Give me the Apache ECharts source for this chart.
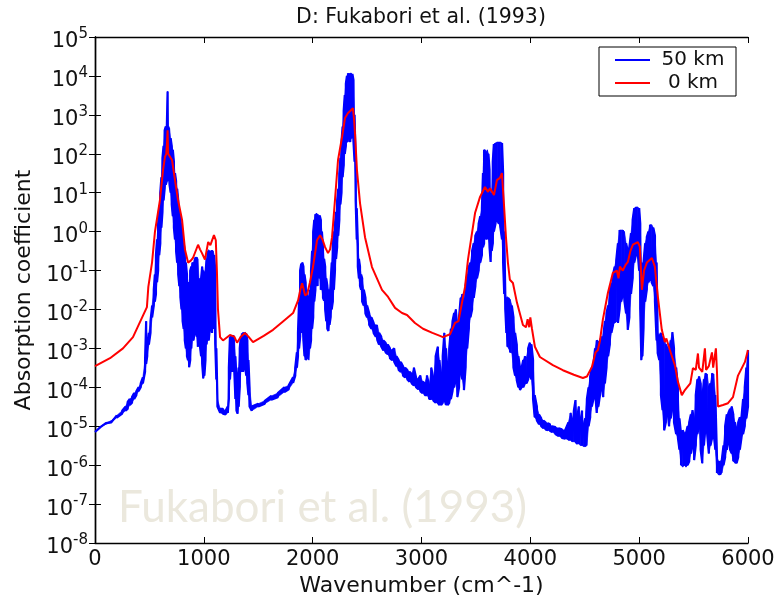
<!DOCTYPE html>
<html>
<head>
<meta charset="utf-8">
<script src="https://cdn.jsdelivr.net/npm/echarts@6/dist/echarts.min.js"></script>
<style>html,body{margin:0;padding:0;background:#fff}#chart{width:779px;height:596px}</style>
</head>
<body>
<div id="chart"></div>
<script>
// ---- data ----
const chartTitle = 'D: Fukabori et al. (1993)';
const watermarkText = 'Fukabori et al. (1993)';
const xTickValues = [0, 1000, 2000, 3000, 4000, 5000, 6000];
const yTickExponents = [-8, -7, -6, -5, -4, -3, -2, -1, 0, 1, 2, 3, 4, 5];
const seriesNames = ['50 km', '0 km'];

// 50 km: rapidly oscillating spectrum, given as upper / lower envelope per wavenumber
const blueWavenumber = [
  0,50,100,150,200,250,280,300,320,340,
  360,380,400,420,440,460,470,480,495,510,
  525,540,550,560,570,580,590,600,610,620,
  630,640,650,660,667,675,685,695,705,715,
  725,735,745,755,765,775,785,795,805,815,
  825,835,845,855,865,875,885,895,905,915,
  925,935,945,955,965,975,985,995,1005,1015,
  1025,1035,1045,1055,1065,1075,1085,1095,1105,1115,
  1125,1150,1175,1200,1220,1230,1240,1250,1260,1270,
  1280,1290,1300,1310,1320,1330,1340,1350,1360,1370,
  1380,1390,1400,1410,1420,1440,1500,1560,1620,1680,
  1740,1780,1820,1840,1855,1865,1875,1885,1895,1905,
  1915,1925,1935,1945,1955,1965,1975,1985,1995,2005,
  2015,2025,2035,2045,2055,2065,2075,2085,2095,2105,
  2115,2125,2135,2145,2155,2165,2175,2185,2195,2205,
  2215,2225,2235,2245,2255,2265,2275,2285,2295,2305,
  2315,2325,2335,2345,2355,2365,2375,2385,2395,2405,
  2415,2425,2435,2445,2455,2470,2485,2500,2520,2540,
  2560,2580,2595,2610,2630,2650,2670,2690,2710,2730,
  2750,2770,2790,2810,2830,2850,2870,2890,2910,2930,
  2950,2970,2990,3010,3030,3050,3070,3090,3110,3130,
  3150,3165,3180,3195,3210,3225,3240,3255,3270,3285,
  3300,3315,3330,3345,3360,3375,3390,3405,3420,3435,
  3450,3465,3480,3495,3510,3525,3540,3555,3565,3575,
  3585,3595,3605,3615,3625,3635,3645,3655,3665,3680,
  3695,3710,3725,3740,3750,3760,3770,3780,3790,3800,
  3815,3830,3845,3860,3875,3890,3905,3920,3935,3950,
  3965,3980,3995,4010,4025,4040,4060,4080,4100,4120,
  4140,4160,4180,4200,4230,4260,4290,4320,4350,4370,
  4385,4400,4415,4430,4445,4460,4475,4490,4505,4520,
  4535,4550,4565,4580,4595,4610,4625,4640,4655,4670,
  4685,4700,4715,4730,4745,4760,4775,4790,4805,4820,
  4835,4850,4865,4880,4895,4910,4925,4940,4955,4970,
  4985,5000,5010,5020,5030,5040,5055,5070,5085,5100,
  5115,5130,5145,5160,5170,5185,5200,5215,5230,5245,
  5260,5275,5290,5305,5320,5340,5356,5370,5385,5400,
  5415,5430,5445,5460,5475,5490,5505,5520,5535,5550,
  5565,5580,5595,5610,5625,5640,5655,5670,5685,5700,
  5715,5730,5745,5760,5775,5790,5805,5820,5835,5850,
  5865,5880,5895,5910,5925,5940,5955,5970,5985,6000
];
const blueUpper = [
  7.1e-6,1e-5,1.2e-5,1.4e-5,1.9e-5,2.5e-5,3.2e-5,4.2e-5,5e-5,5.6e-5,
  7.1e-5,7.9e-5,1e-4,1.26e-4,1.8e-4,5e-4,5e-3,1e-3,2.5e-3,5e-3,
  0.0126,0.032,0.079,0.25,0.63,1.6,4,10,25,79,
  160,400,500,500,4000,500,450,250,160,126,
  63,32,20,12.6,6.3,3.5,2.5,1.6,0.79,0.5,
  0.32,0.16,0.079,0.05,0.04,0.1,0.126,0.16,0.16,0.18,
  0.22,0.22,0.2,0.063,0.032,0.063,0.126,0.1,0.04,0.079,
  0.2,0.32,0.34,0.32,0.32,0.33,0.32,0.25,0.1,1e-3,
  5e-5,2.8e-5,2.8e-5,2.5e-5,3.2e-5,3.2e-4,2e-3,2.2e-3,2e-3,2.2e-3,
  2e-3,6.3e-4,1.6e-4,1e-4,3.2e-4,1e-3,2e-3,2.4e-3,2.6e-3,2.5e-3,
  2.6e-3,2.4e-3,1.6e-3,5e-4,1e-4,3.2e-5,3.8e-5,4.5e-5,6e-5,7.1e-5,
  1e-4,1.12e-4,1.8e-4,3.2e-4,7.9e-4,2.5e-3,0.016,0.1,0.15,0.16,
  0.126,0.079,0.05,0.032,0.016,0.0126,0.032,0.1,0.32,1,
  2,2.8,3.0,2.8,2.5,2.6,2,1,0.4,0.2,
  0.126,0.063,0.04,0.032,0.032,0.05,0.16,0.5,1,1.6,
  3.2,6.3,12.6,32,79,200,500,1260,3200,6300,
  10000,11700,11200,11700,11700,11200,7900,1000,63,4,
  0.5,0.2,0.126,0.079,0.063,0.032,0.02,0.0126,7.9e-3,6.3e-3,
  4.5e-3,4e-3,4e-3,2.5e-3,2e-3,1.6e-3,1.4e-3,1.26e-3,1e-3,8.9e-4,
  1e-3,6.3e-4,5e-4,4.5e-4,3.5e-4,3.2e-4,2.8e-4,2.5e-4,2.2e-4,3.2e-4,
  1.8e-4,1.6e-4,2e-4,1.4e-4,1.26e-4,2e-4,1.12e-4,3.2e-4,1.6e-4,6.3e-4,
  1.1e-3,5e-4,1.6e-4,6.3e-4,2.5e-3,1e-3,2.5e-4,1e-3,3.2e-3,5e-3,
  8.1e-3,0.01,3.2e-3,6.3e-3,0.02,0.025,0.016,0.04,0.079,0.126,
  0.16,0.32,0.5,0.79,1,1.6,2.5,4,32,126,
  126,112,126,100,40,6.3,10,63,178,190,
  200,200,200,190,32,1,0.025,0.02,0.021,0.02,
  0.018,0.0126,6.3e-3,2.5e-3,1.26e-3,6.3e-4,3.2e-4,3.2e-4,5e-4,6.3e-4,
  6e-4,1e-3,1.4e-3,1.26e-3,5e-4,6.3e-5,3.2e-5,2e-5,1.6e-5,1.4e-5,
  1.26e-5,1.2e-5,1.12e-5,1e-5,9.5e-6,8.9e-6,8.3e-6,7.9e-6,1.26e-5,2.2e-5,
  1e-5,2.5e-5,4.7e-5,1.6e-5,3.2e-5,1.26e-5,2.5e-5,1e-5,1.6e-5,5e-5,
  1e-4,1.9e-4,3.2e-4,4e-4,1e-3,1.6e-3,1.4e-3,1.6e-3,2e-3,1.95e-3,
  5e-3,8.1e-3,0.0126,0.032,0.047,0.079,0.126,0.19,0.5,1.1,
  1.1,1.1,1,0.5,0.32,0.4,0.91,2,4,4.3,
  4.3,4,1.6,0.16,0.1,0.16,0.5,0.72,1,1.5,
  1.5,1.26,0.79,0.16,2.5e-3,2e-3,2.5e-3,2e-3,1.8e-3,1.26e-3,
  1e-3,7.9e-4,1.6e-3,2.6e-3,1e-3,3.2e-4,1e-4,1.6e-5,6.3e-6,7.9e-6,
  6.3e-6,6.6e-6,1e-5,1.26e-5,2e-5,2.6e-5,1.26e-5,6.3e-5,1.6e-4,1.9e-4,
  1.26e-4,5e-5,1.6e-4,2.3e-4,2.2e-4,1e-4,1.26e-4,2.3e-4,2.2e-4,6.3e-5,
  1.6e-6,1.26e-6,1.26e-6,1.4e-6,3.2e-6,1e-5,2e-5,2.2e-5,2.8e-5,3.2e-5,
  2e-5,1.26e-5,7.9e-6,1.26e-5,1.7e-5,1.7e-5,5e-5,1e-4,3.2e-4,9.1e-4
];
const blueLower = [
  7.1e-6,9.5e-6,1.12e-5,1.26e-5,1.66e-5,2.1e-5,2.5e-5,2.8e-5,3.5e-5,4e-5,
  5e-5,6.3e-5,7.9e-5,1e-4,1.26e-4,2.5e-4,4e-4,6.3e-4,1.26e-3,2.5e-3,
  6.3e-3,0.0126,0.016,0.025,0.05,0.1,0.25,0.5,1.26,3.2,
  6.3,12.6,16,20,20,25,16,10,5,2.5,
  1.26,0.63,0.32,0.16,0.079,0.04,0.02,0.01,5e-3,3.2e-3,
  1.6e-3,1e-3,6.3e-4,5e-4,3.3e-4,5e-4,1e-3,3.2e-3,1.6e-3,2.5e-3,
  3.2e-3,2e-3,1.1e-3,2.5e-3,1.1e-3,6.3e-4,4e-4,1.7e-4,2e-4,5e-4,
  1.26e-3,2.5e-3,1.6e-3,3.2e-3,5e-3,2.5e-3,4e-3,3.2e-3,1.26e-3,1.6e-4,
  3.2e-5,2.2e-5,2.1e-5,2e-5,2.2e-5,5e-5,1.6e-4,4e-4,2.5e-4,5e-4,
  2.5e-4,5e-5,2.5e-5,2.1e-5,3.2e-5,1e-4,2.5e-4,5e-4,2.5e-4,4e-4,
  3.2e-4,2e-4,1.26e-4,6.3e-5,3.2e-5,2.5e-5,3.2e-5,3.8e-5,4.8e-5,5.6e-5,
  7.6e-5,8.9e-5,1.3e-4,2e-4,3.2e-4,6.3e-4,1e-3,2e-3,5e-3,2.5e-3,
  1.6e-3,6.3e-4,5e-4,5e-4,5.6e-4,5e-4,1e-3,1.6e-3,3.2e-3,6.3e-3,
  0.016,0.032,0.063,0.04,0.1,0.063,0.032,0.032,0.02,0.017,
  0.01,5e-3,3.2e-3,2.8e-3,4e-3,6.3e-3,0.01,0.016,0.032,0.1,
  0.2,0.4,0.79,2,5,10,25,50,100,160,
  200,200,250,200,250,320,200,63,6.3,0.63,
  0.126,0.063,0.04,0.032,0.016,0.0126,7.9e-3,6.3e-3,4e-3,3.2e-3,
  2.5e-3,2e-3,1.6e-3,1.26e-3,1.12e-3,8.9e-4,7.9e-4,7.1e-4,5.6e-4,5e-4,
  4.5e-4,3.5e-4,2.8e-4,2.5e-4,2e-4,1.8e-4,1.6e-4,1.4e-4,1.26e-4,1.12e-4,
  1e-4,8.9e-5,7.9e-5,7.1e-5,6.3e-5,6.3e-5,5e-5,5e-5,4.5e-5,4e-5,
  4e-5,3.5e-5,3.5e-5,4e-5,5e-5,3.5e-5,3.5e-5,4e-5,5e-5,7.9e-5,
  1e-4,1.6e-4,5.6e-5,1e-4,2.5e-4,1.6e-4,8.5e-5,3.2e-4,1e-3,3.2e-3,
  6.3e-3,0.01,0.02,0.04,0.063,0.1,0.16,0.25,0.4,0.5,
  1,0.63,1.26,0.63,0.4,0.166,0.32,0.5,1,1.6,
  2,1.6,1.26,0.63,0.16,0.025,0.01,2.5e-3,1.1e-3,1e-3,
  7.9e-4,7.6e-4,3.2e-4,2e-4,1.55e-4,1e-4,8.5e-5,1e-4,1e-4,1.26e-4,
  1.26e-4,1.6e-4,2e-4,1.6e-4,5e-5,1.7e-5,1.4e-5,1.12e-5,1e-5,8.9e-6,
  8.3e-6,7.9e-6,7.6e-6,7.1e-6,6.3e-6,5.6e-6,5e-6,4.8e-6,4.5e-6,4.5e-6,
  4e-6,4e-6,4e-6,3.5e-6,3.5e-6,3.2e-6,3.2e-6,3e-6,3e-6,3.2e-6,
  1e-5,1.7e-5,3.2e-5,5e-5,7.9e-5,2.2e-5,3.2e-5,6.3e-5,1e-4,5.6e-5,
  1.26e-4,3.2e-4,6.3e-4,1.26e-3,2.5e-3,4e-3,4.5e-3,5e-3,4.5e-3,0.01,
  0.016,0.025,0.016,7.9e-3,3e-3,6.3e-3,0.025,0.063,0.16,0.25,
  0.32,0.1,0.01,5e-4,6.3e-4,3.2e-3,0.016,0.032,0.05,0.063,
  0.05,0.04,0.016,1.6e-3,7.6e-4,5e-4,6.3e-5,2.6e-5,7.9e-6,1.26e-5,
  2.5e-5,1e-5,1.6e-5,3.2e-5,1.26e-5,6.3e-6,5e-6,2.5e-6,1e-6,8.9e-7,
  1e-6,8.9e-7,1e-6,1.26e-6,2e-6,3.2e-6,1.35e-6,3.2e-6,6.3e-6,1e-5,
  2.5e-6,1.12e-6,3.2e-6,1e-5,6.3e-6,2e-6,3.2e-6,5e-6,6.3e-6,2.5e-6,
  6.3e-7,5.6e-7,5.6e-7,6.3e-7,1e-6,1.6e-6,2.5e-6,4e-6,2.5e-6,2e-6,
  1.26e-6,1.12e-6,1.12e-6,1.6e-6,2.5e-6,5e-6,6.3e-6,1e-5,1.6e-5,3.2e-5
];

// 0 km: smoother spectrum
const redWavenumber = [
  0,138,257,349,414,477,490,524,551,597,625,643,655,662,667,672,690,708,735,763,
  800,827,855,880,900,947,965,983,1010,1040,1060,1075,1093,1110,1120,1130,1149,1176,1240,1280,
  1305,1340,1378,1410,1452,1550,1636,1730,1820,1866,1890,1903,1915,1930,1950,1975,2003,2040,2068,2090,
  2114,2141,2160,2178,2205,2233,2270,2297,2325,2345,2361,2370,2380,2389,2407,2435,2481,2545,2637,2693,
  2757,2821,2867,2940,3014,3100,3170,3197,3262,3308,3340,3372,3400,3427,3464,3492,3538,3583,3611,3630,
  3648,3666,3693,3721,3739,3757,3776,3794,3812,3840,3877,3932,3960,3975,3990,4000,4015,4042,4088,4207,
  4299,4400,4483,4520,4565,4600,4621,4640,4666,4712,4758,4795,4810,4823,4850,4875,4896,4920,4942,4988,
  5006,5015,5025,5045,5071,5117,5144,5172,5208,5236,5250,5282,5328,5356,5392,5420,5470,5494,5520,5540,
  5550,5580,5604,5615,5640,5669,5680,5705,5715,5724,5770,5816,5862,5908,5972,6000
];
const redValues = [
  3.5e-4,5.6e-4,1e-3,1.95e-3,4.8e-3,0.0115,0.038,0.16,1.0,6.5,38,83,100,200,400,100,89,69,21,6.5,
  2.0,0.34,0.16,0.18,0.21,0.46,0.35,0.28,0.19,0.54,0.45,0.5,0.81,0.6,0.1,0.01,1.95e-3,1.6e-3,2.2e-3,2e-3,
  1.4e-3,2e-3,2.5e-3,2e-3,1.45e-3,2.1e-3,3e-3,5e-3,8.1e-3,0.017,0.035,0.047,0.035,0.023,0.025,0.05,0.123,0.6,0.81,0.63,
  0.4,0.28,0.35,0.72,6.5,69,270,830,1120,1260,1320,1480,790,340,38,5.4,0.72,0.123,0.032,0.021,
  0.011,8.1e-3,7.2e-3,4.5e-3,3.2e-3,2.5e-3,2.1e-3,1.95e-3,2.3e-3,4.5e-3,5e-3,0.015,0.038,0.19,0.91,3.0,7.8,14,10.5,13,
  13,8.7,21,24,32,5.4,0.72,0.16,0.058,0.048,0.015,4e-3,3.5e-3,5.6e-3,3.5e-3,6.3e-3,3.2e-3,1.1e-3,6e-4,3.7e-4,
  2.75e-4,2.1e-4,1.74e-4,1.9e-4,3.3e-4,7.9e-4,9.1e-4,1.6e-3,5.4e-3,0.026,0.087,0.1,0.063,0.126,0.1,0.14,0.166,0.32,0.46,0.54,
  0.41,0.126,0.032,0.1,0.16,0.21,0.126,0.021,3e-3,1.45e-3,1.8e-3,9.1e-4,3.7e-4,1.4e-4,6.3e-5,8.5e-5,1.26e-4,3.1e-4,2.8e-4,7.4e-4,
  3.2e-4,2.5e-4,1e-3,2.8e-4,3.5e-4,7.9e-4,3.2e-4,1e-3,2.5e-4,3.2e-5,3.5e-5,3.9e-5,5.6e-5,2e-4,4.5e-4,9.1e-4
];

// ---- build series data ----
const nBlue = Math.min(blueWavenumber.length, blueUpper.length, blueLower.length);
// meander through upper/lower envelope for the 50 km line
const blueData = [];
for (let i = 0; i < nBlue; i++) {
  if (i % 2 === 0) {
    blueData.push([blueWavenumber[i], blueUpper[i]]);
    blueData.push([blueWavenumber[i], blueLower[i]]);
  } else {
    blueData.push([blueWavenumber[i], blueLower[i]]);
    blueData.push([blueWavenumber[i], blueUpper[i]]);
  }
}
// band segments (filled between envelopes)
const blueBand = [];
for (let i = 0; i < nBlue - 1; i++) {
  blueBand.push([blueWavenumber[i], blueUpper[i], blueLower[i], blueWavenumber[i + 1], blueUpper[i + 1], blueLower[i + 1]]);
}
const redData = redWavenumber.map((x, i) => [x, redValues[i]]);

const FONT = 'DejaVu Sans';
const TXT = '#111';
const yMin = Math.pow(10, yTickExponents[0]);
const yMax = Math.pow(10, yTickExponents[yTickExponents.length - 1]);

const chart = echarts.init(document.getElementById('chart'), null, {renderer: 'canvas'});
const tickStyle = {show: true, inside: true, length: 6, lineStyle: {color: '#000', width: 1}};
const axisLineStyle = {show: true, lineStyle: {color: '#000', width: 1.4}};

chart.setOption({
  animation: false,
  backgroundColor: '#fff',
  grid: {left: 95, right: 31, top: 37, bottom: 53, containLabel: false, outerBoundsMode: 'none'},
  graphic: [
    {type: 'text', x: 421, y: 18, z: 10,
     style: {text: chartTitle, fontFamily: FONT, fontSize: 20.5, fill: TXT, textAlign: 'center', textVerticalAlign: 'middle'}},
    {type: 'text', x: 118, y: 508, z: 0, silent: true,
     style: {text: watermarkText, fontFamily: 'Lato', fontSize: 44, fill: '#EBE8DD', textAlign: 'left', textVerticalAlign: 'middle'}}
  ],
  legend: {
    orient: 'vertical', left: 599, top: 47,
    borderColor: '#000', borderWidth: 1, padding: [3, 5, 3, 16], itemGap: 3,
    itemWidth: 35, itemHeight: 2, icon: 'rect',
    data: seriesNames,
    formatter: name => '{t|' + name + '}',
    textStyle: {rich: {t: {fontFamily: FONT, fontSize: 20, color: TXT, width: 76, align: 'center', lineHeight: 20}}}
  },
  xAxis: [
    {type: 'value', min: xTickValues[0], max: xTickValues[xTickValues.length - 1], interval: 1000,
     position: 'bottom',
     name: 'Wavenumber (cm^-1)', nameLocation: 'middle', nameGap: 18,
     nameTextStyle: {fontFamily: FONT, fontSize: 22, color: TXT},
     axisLine: axisLineStyle, axisTick: tickStyle, splitLine: {show: false},
     axisLabel: {fontFamily: FONT, fontSize: 21, color: TXT, margin: 6, formatter: v => String(v)}},
    {type: 'value', min: xTickValues[0], max: xTickValues[xTickValues.length - 1], interval: 1000,
     position: 'top', axisLine: axisLineStyle, axisTick: tickStyle, splitLine: {show: false},
     axisLabel: {show: false}}
  ],
  yAxis: [
    {type: 'log', logBase: 10, min: yMin, max: yMax, interval: 1, position: 'left',
     name: 'Absorption coefficient', nameLocation: 'middle', nameGap: 60,
     nameTextStyle: {fontFamily: FONT, fontSize: 22, color: TXT},
     axisLine: axisLineStyle, axisTick: tickStyle, splitLine: {show: false},
     axisLabel: {
       margin: 7,
       formatter: v => '{b|10}{s|' + Math.round(Math.log10(v)) + '}',
       rich: {
         b: {fontFamily: FONT, fontSize: 21, color: TXT, lineHeight: 20, padding: [10, 0, 0, 0]},
         s: {fontFamily: FONT, fontSize: 15, color: TXT, lineHeight: 20, verticalAlign: 'top'}
       }
     }},
    {type: 'log', logBase: 10, min: yMin, max: yMax, interval: 1, position: 'right',
     axisLine: axisLineStyle, axisTick: tickStyle, splitLine: {show: false},
     axisLabel: {show: false}}
  ],
  series: [
    {name: seriesNames[0], type: 'line', xAxisIndex: 0, yAxisIndex: 0, data: blueData,
     symbol: 'none', color: '#0000FF', lineStyle: {color: '#0000FF', width: 2.2}, z: 2},
    {type: 'custom', xAxisIndex: 0, yAxisIndex: 0, data: blueBand, z: 2, silent: true,
     clip: true,
     encode: {x: [0, 3], y: [1, 2, 4, 5]},
     renderItem: (params, api) => {
       const a = api.coord([api.value(0), api.value(1)]);
       const b = api.coord([api.value(3), api.value(4)]);
       const c = api.coord([api.value(3), api.value(5)]);
       const d = api.coord([api.value(0), api.value(2)]);
       return {type: 'polygon', shape: {points: [a, b, c, d]},
               style: {fill: '#0000FF', stroke: '#0000FF', lineWidth: 0.6}};
     }},
    {name: seriesNames[1], type: 'line', xAxisIndex: 0, yAxisIndex: 0, data: redData,
     symbol: 'none', color: '#FF0000', lineStyle: {color: '#FF0000', width: 2}, z: 3}
  ]
});
</script>
</body>
</html>
